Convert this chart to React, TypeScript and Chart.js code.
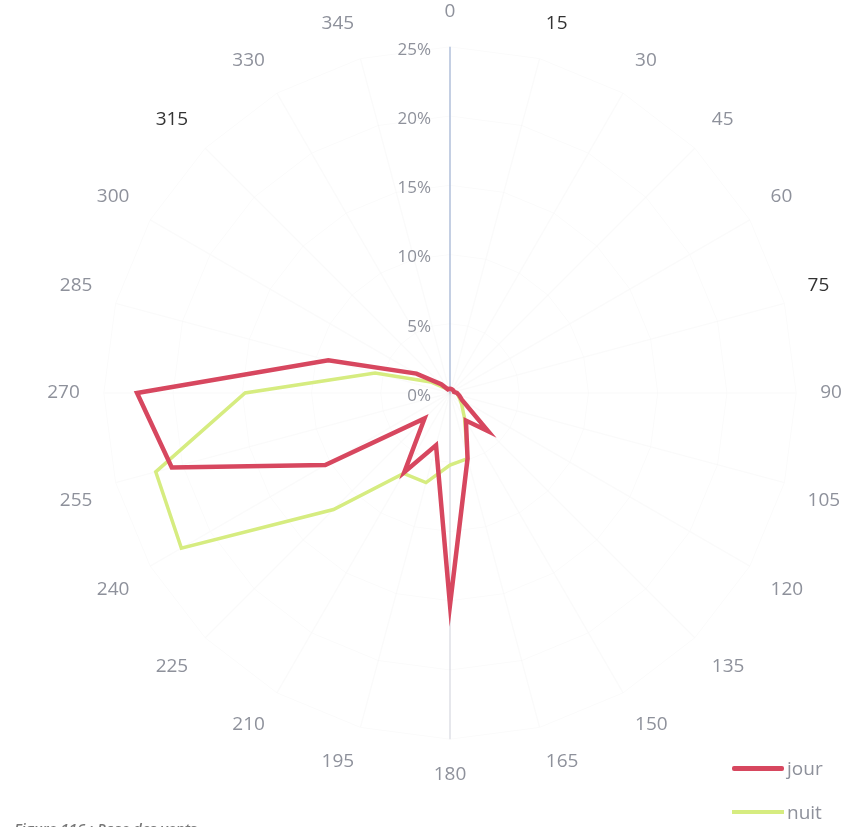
import React, { useEffect, useRef } from "react";
import { Chart, registerables } from "chart.js";

Chart.register(...registerables);

const DIRECTIONS: string[] = [
  "0", "15", "30", "45", "60", "75", "90", "105", "120", "135", "150", "165",
  "180", "195", "210", "225", "240", "255", "270", "285", "300", "315", "330", "345",
];

const JOUR: number[] = [
  0.3, 0.3, 0.3, 0.3, 0.3, 0.3, 0.5, 0.7, 1.0, 3.9, 2.3, 4.9,
  15.3, 3.9, 6.6, 2.6, 10.4, 20.8, 22.6, 9.1, 2.8, 0.9, 0.3, 0.3,
];

const NUIT: number[] = [
  0.3, 0.3, 0.3, 0.3, 0.3, 0.3, 0.5, 0.6, 0.8, 1.2, 2.1, 4.9,
  5.2, 6.7, 6.7, 11.9, 22.4, 22.0, 14.8, 5.6, 1.6, 0.5, 0.3, 0.3,
];

const TICKS: number[] = [0, 5, 10, 15, 20, 25];

const SERIES_NAMES = ["jour", "nuit"];
const RED = "#d7475f";
const GREEN = "#d6ec80";
const GRAY = "#8e919b";
const DARK_LABELS = ["15", "75", "315"];

const tickPlugin = {
  id: "leftTicks",
  afterDraw(chart: any) {
    const s = chart.scales.r;
    const ctx = chart.ctx;
    ctx.save();
    ctx.font = "17px 'Open Sans'";
    ctx.fillStyle = GRAY;
    ctx.textAlign = "right";
    ctx.textBaseline = "middle";
    TICKS.forEach((v) => {
      const d = s.getDistanceFromCenterForValue(v);
      ctx.fillText(v + "%", s.xCenter - 19, s.yCenter - d + 3);
    });
    ctx.restore();
  },
};

export default function App() {
  const ref = useRef<HTMLCanvasElement | null>(null);
  useEffect(() => {
    if (!ref.current) return;
    const chart = new Chart(ref.current, {
      type: "radar",
      data: {
        labels: DIRECTIONS,
        datasets: [
          {
            label: SERIES_NAMES[0],
            data: JOUR,
            borderColor: RED,
            borderWidth: 4.5,
            pointRadius: 0,
            fill: false,
            tension: 0,
          },
          {
            label: SERIES_NAMES[1],
            data: NUIT,
            borderColor: GREEN,
            borderWidth: 3.5,
            pointRadius: 0,
            fill: false,
            tension: 0,
          },
        ],
      },
      options: {
        responsive: false,
        animation: false,
        layout: { padding: { top: 0, bottom: 41, left: 26, right: 0 } },
        plugins: {
          legend: { display: false },
          tooltip: { enabled: false },
        },
        scales: {
          r: {
            min: 0,
            max: 25,
            ticks: { display: false, stepSize: 5 },
            grid: { color: "rgba(0,0,0,0.018)", circular: false },
            angleLines: {
              color: (c: any) =>
                c.index === 0
                  ? "rgba(150,170,205,0.75)"
                  : c.index === 12
                  ? "rgba(170,175,190,0.4)"
                  : "rgba(0,0,0,0.018)",
              lineWidth: 1.5,
            },
            pointLabels: {
              padding: 24,
              font: { family: "'Open Sans'", size: 19 },
              color: (c: any) => (DARK_LABELS.includes(c.label) ? "#333333" : GRAY),
            },
          },
        },
      },
      plugins: [tickPlugin],
    });
    return () => chart.destroy();
  }, []);

  return (
    <div style={{ position: "absolute", left: 0, top: 0, width: 865, height: 827, overflow: "hidden", background: "#fff" }}>
      <canvas ref={ref} width={865} height={827} style={{ display: "block" }} />
      <div style={{ position: "absolute", left: 732, top: 756, fontFamily: "'Open Sans'", fontSize: 19, color: GRAY }}>
        <div style={{ display: "flex", alignItems: "center", height: 24 }}>
          <span style={{ display: "inline-block", width: 52, height: 5, background: RED, borderRadius: 2, marginRight: 3 }} />
          <span>{SERIES_NAMES[0]}</span>
        </div>
        <div style={{ display: "flex", alignItems: "center", height: 24, marginTop: 20 }}>
          <span style={{ display: "inline-block", width: 52, height: 4, background: GREEN, marginRight: 3 }} />
          <span>{SERIES_NAMES[1]}</span>
        </div>
      </div>
      <div style={{ position: "absolute", left: 14, top: 818, fontFamily: "'Open Sans'", fontSize: 15, fontStyle: "italic", fontWeight: 600, color: "#777" }}>
        Figure 116 : Rose des vents
      </div>
    </div>
  );
}
